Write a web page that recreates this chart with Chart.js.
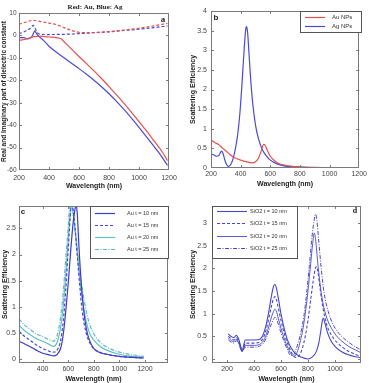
<!DOCTYPE html>
<html><head><meta charset="utf-8">
<script src="https://cdn.jsdelivr.net/npm/chart.js@4/dist/chart.umd.min.js"></script>
<style>
html,body{margin:0;padding:0;background:#fff}
body{width:369px;height:383px;position:relative;overflow:hidden}
.p{position:absolute}
</style></head><body>
<div class="p" style="left:0;top:0;width:185px;height:195px"><canvas id="ca"></canvas></div>
<div class="p" style="left:185px;top:0;width:184px;height:195px"><canvas id="cb"></canvas></div>
<div class="p" style="left:0;top:195px;width:185px;height:188px"><canvas id="cc"></canvas></div>
<div class="p" style="left:185px;top:195px;width:184px;height:188px"><canvas id="cd"></canvas></div>
<script>
// ---------- Panel a: dielectric constant ----------
const aTitle = 'Red: Au, Blue: Ag';
const aXTicks = [200,400,600,800,1000,1200];
const aYTicks = [-60,-50,-40,-30,-20,-10,0,10];
const auRealWl = [200,220,250,280,300,330,370,400,450,480,500,530,560,600,650,700,750,800,850,900,950,1000,1050,1100,1150,1190];
const auReal   = [-2.2,-2,-1.6,-1,-0.5,-0.3,-0.5,-0.7,-1,-1.5,-2.8,-4.8,-6.8,-9.4,-12.6,-15.8,-19.2,-22.8,-26.5,-30.3,-34.3,-38.4,-42.6,-47,-51.4,-55.8];
const agRealWl = [200,230,260,275,290,300,305,315,330,360,400,450,500,550,600,650,700,750,800,850,900,950,1000,1050,1100,1150,1190];
const agReal   = [-1,-1,-1.5,-1.2,0,1.5,2,1,-0.3,-2,-4.8,-7.5,-10,-12.4,-14.8,-17.3,-20,-22.9,-26,-29.4,-33,-36.9,-41,-45.2,-49.5,-53.9,-58];
const auImagWl = [200,230,260,290,320,360,400,450,500,550,600,650,700,800,900,1000,1100,1190];
const auImag   = [5,5.6,6.3,6.7,6.5,6,5.5,4.8,3.5,2.2,1.4,1.2,1.3,1.7,2.4,3.2,4.3,5.4];
const agImagWl = [200,230,260,280,295,305,320,340,400,500,600,700,800,900,1000,1100,1190];
const agImag   = [0.8,1.5,2.5,3.5,4.5,3.5,1.5,0.6,0.4,0.5,0.8,1.2,1.6,2.2,2.8,3.5,4.2];

// ---------- Panel b: Au / Ag NPs scattering ----------
const bXTicks = [200,400,600,800,1000,1200];
const bYTicks = [0,0.5,1,1.5,2,2.5,3,3.5,4];
const bLabels = ['Au NPs','Ag NPs'];
const bAuWl = [200,225,250,280,300,325,350,400,450,480,500,520,540,555,565,580,600,630,660,700,800,900,1000,1200];
const bAu   = [0.72,0.65,0.6,0.5,0.44,0.35,0.28,0.2,0.15,0.13,0.16,0.25,0.45,0.6,0.58,0.45,0.3,0.18,0.11,0.07,0.03,0.015,0.01,0.005];
const bAgWl = [200,210,220,240,255,270,280,295,310,320,335,350,365,380,395,410,425,435,440,447,455,465,480,500,520,545,570,600,650,700,800,900,1000,1200];
const bAg   = [0.33,0.35,0.33,0.3,0.33,0.43,0.38,0.18,0.06,0.04,0.1,0.25,0.5,0.85,1.4,2.2,3.1,3.55,3.6,3.45,3.0,2.4,1.7,1.1,0.75,0.48,0.33,0.2,0.1,0.05,0.02,0.01,0.008,0.003];

// ---------- Panel c: Au thickness ----------
const cXTicks = [400,600,800,1000,1200];
const cYTicks = [0,0.5,1,1.5,2,2.5];
const cLabels = ['Au t = 10 nm','Au t = 15 nm','Au t = 20 nm','Au t = 25 nm'];
const cWl10 = [215,250,300,350,400,450,485,510,540,560,580,600,620,640,655,662,670,685,700,720,740,760,800,850,900,1000,1100,1190];
const c10   = [0.34,0.3,0.24,0.17,0.11,0.08,0.06,0.08,0.2,0.45,0.9,1.45,2.1,2.65,2.9,2.95,2.8,2.1,1.5,0.95,0.6,0.4,0.2,0.12,0.09,0.05,0.03,0.02];
const cWl15 = [215,250,300,350,400,450,485,510,540,560,580,600,615,625,635,650,670,690,710,740,770,800,850,900,1000,1100,1190];
const c15   = [0.53,0.45,0.36,0.27,0.2,0.15,0.13,0.16,0.35,0.7,1.3,2.1,2.7,2.95,2.9,2.6,2.0,1.4,0.9,0.5,0.3,0.2,0.13,0.09,0.05,0.03,0.02];
const cWl20 = [215,250,300,350,380,400,450,485,510,540,560,580,600,615,622,635,650,670,690,710,740,770,800,850,900,1000,1100,1190];
const c20   = [0.65,0.56,0.47,0.39,0.36,0.34,0.28,0.24,0.3,0.6,1.0,1.6,2.3,2.8,2.95,2.85,2.55,2.05,1.55,1.15,0.72,0.48,0.36,0.24,0.17,0.09,0.05,0.04];
const cWl25 = [215,250,300,350,380,400,450,485,510,540,560,580,600,612,625,640,660,680,700,730,760,800,850,900,1000,1100,1190];
const c25   = [0.77,0.67,0.57,0.48,0.45,0.43,0.37,0.34,0.42,0.8,1.25,1.9,2.55,2.95,2.95,2.75,2.35,1.9,1.5,1.05,0.72,0.48,0.32,0.23,0.13,0.08,0.05];

// ---------- Panel d: SiO2 thickness ----------
const dXTicks = [200,400,600,800,1000];
const dYTicks = [0,0.5,1,1.5,2,2.5,3];
const dLabels = ['SiO2 t = 10 nm','SiO2 t = 15 nm','SiO2 t = 20 nm','SiO2 t = 25 nm'];
const dWl10 = [210,230,250,270,285,300,310,320,335,345,400,440,470,490,510,530,545,555,565,580,600,630,660,700,750,800,830,860,880,895,905,913,925,945,970,1000,1050,1100,1150,1190];
const d10   = [0.55,0.5,0.47,0.52,0.45,0.3,0.17,0.25,0.42,0.42,0.42,0.43,0.55,0.75,1.05,1.4,1.6,1.65,1.58,1.35,1.0,0.6,0.33,0.14,0.04,0.0,0.04,0.15,0.35,0.62,0.82,0.9,0.8,0.58,0.4,0.28,0.16,0.09,0.05,0.03];
const dWl15 = [210,230,250,270,285,300,310,320,335,345,400,440,470,490,510,530,545,555,565,580,600,630,660,690,715,740,760,780,800,820,840,855,864,875,890,910,940,980,1020,1060,1100,1150,1190];
const d15   = [0.5,0.45,0.42,0.47,0.4,0.27,0.17,0.22,0.35,0.35,0.35,0.37,0.47,0.64,0.9,1.17,1.33,1.38,1.33,1.13,0.85,0.5,0.26,0.08,0.03,0.1,0.25,0.5,0.85,1.3,1.75,2.0,2.04,1.9,1.55,1.15,0.75,0.5,0.35,0.25,0.17,0.1,0.06];
const dWl20 = [210,230,250,270,285,300,310,320,335,345,400,440,470,490,510,530,545,555,565,580,600,630,660,685,700,720,740,760,780,800,820,835,847,858,870,890,910,940,980,1020,1060,1100,1150,1190];
const d20   = [0.46,0.41,0.38,0.43,0.37,0.25,0.17,0.2,0.3,0.3,0.3,0.32,0.4,0.53,0.72,0.93,1.05,1.1,1.06,0.9,0.68,0.4,0.19,0.07,0.06,0.15,0.35,0.62,1.0,1.5,2.1,2.55,2.78,2.6,2.2,1.65,1.25,0.9,0.65,0.48,0.37,0.28,0.2,0.14];
const dWl25 = [210,230,250,270,285,300,310,320,335,345,400,440,470,490,510,530,545,555,565,580,600,630,650,670,690,710,730,750,770,790,810,830,845,857,867,880,900,920,950,980,1020,1060,1100,1150,1190];
const d25   = [0.42,0.37,0.35,0.4,0.35,0.23,0.17,0.19,0.26,0.26,0.26,0.28,0.35,0.46,0.62,0.78,0.88,0.92,0.9,0.77,0.58,0.33,0.19,0.08,0.08,0.2,0.38,0.62,0.95,1.45,2.05,2.7,3.05,3.2,3.05,2.6,1.95,1.45,1.05,0.8,0.6,0.47,0.37,0.27,0.2];

// ---------- helpers ----------
const FONT = "'Liberation Sans', Arial, sans-serif";
const SERIF = "'Liberation Serif', 'Times New Roman', serif";
const zip = (xs, ys) => xs.map((x, i) => ({x, y: ys[i]}));
const line = (label, xs, ys, color, dash, width) => ({
  label, data: zip(xs, ys), borderColor: color, backgroundColor: color,
  borderWidth: width || 1.2, borderDash: dash || [], pointRadius: 0,
  cubicInterpolationMode: 'monotone', fill: false
});

function axis(o) {
  return {
    type: 'linear', min: o.min, max: o.max,
    afterFit: s => { if (s.isHorizontal()) s.height = o.size; else s.width = o.size; },
    afterBuildTicks: s => { s.ticks = o.ticks.map(v => ({value: v})); },
    grid: {display: false, drawTicks: false},
    border: {display: false},
    ticks: {font: {family: FONT, size: o.tsize || 7}, color: '#444', padding: o.pad,
            maxRotation: 0, minRotation: 0, autoSkip: false, callback: v => String(v)},
    title: {display: true, text: o.title,
            font: {family: FONT, size: o.fsize || 7, weight: 'bold', lineHeight: o.lh || 1.2},
            color: '#222', padding: o.tpad}
  };
}

const framePlugin = {
  id: 'frame',
  afterDraw(chart, args, o) {
    const {ctx, chartArea: a, scales: {x, y}} = chart;
    ctx.save();
    ctx.strokeStyle = '#7a7a7a';
    ctx.lineWidth = 1;
    ctx.strokeRect(Math.round(a.left) + 0.5, Math.round(a.top) + 0.5,
                   Math.round(a.right - a.left) - 1, Math.round(a.bottom - a.top) - 1);
    const L = 3;
    ctx.beginPath();
    x.ticks.forEach(t => {
      const p = Math.round(x.getPixelForValue(t.value)) + 0.5;
      if (p < a.left || p > a.right) return;
      ctx.moveTo(p, a.bottom); ctx.lineTo(p, a.bottom - L);
      ctx.moveTo(p, a.top); ctx.lineTo(p, a.top + L);
    });
    y.ticks.forEach(t => {
      const p = Math.round(y.getPixelForValue(t.value)) + 0.5;
      if (p < a.top || p > a.bottom) return;
      ctx.moveTo(a.left, p); ctx.lineTo(a.left + L, p);
      ctx.moveTo(a.right, p); ctx.lineTo(a.right - L, p);
    });
    ctx.stroke();
    // legend box
    const lg = o.legend;
    if (lg) {
      ctx.fillStyle = '#fff';
      ctx.fillRect(lg.box[0], lg.box[1], lg.box[2], lg.box[3]);
      ctx.strokeStyle = '#555';
      ctx.strokeRect(lg.box[0] + 0.5, lg.box[1] + 0.5, lg.box[2], lg.box[3]);
      chart.data.datasets.forEach((ds, i) => {
        const yy = lg.rows[i] + 0.5;
        ctx.strokeStyle = ds.borderColor;
        ctx.lineWidth = ds.borderWidth;
        ctx.setLineDash(ds.borderDash || []);
        ctx.beginPath(); ctx.moveTo(lg.x1, yy); ctx.lineTo(lg.x2, yy); ctx.stroke();
        ctx.setLineDash([]);
        ctx.fillStyle = '#333';
        ctx.font = lg.font;
        ctx.textAlign = 'left'; ctx.textBaseline = 'middle';
        ctx.fillText(ds.label, lg.tx, yy);
      });
    }
    (o.texts || []).forEach(t => {
      ctx.font = t.font; ctx.fillStyle = t.color || '#222';
      ctx.textAlign = t.align || 'left'; ctx.textBaseline = 'middle';
      ctx.fillText(t.text, t.x, t.y);
    });
    ctx.restore();
  }
};

function make(id, datasets, xa, ya, pad, frameOpts) {
  return new Chart(document.getElementById(id), {
    type: 'line',
    data: {datasets},
    options: {
      responsive: true, maintainAspectRatio: false, animation: false, events: [],
      devicePixelRatio: 1,
      layout: {padding: pad},
      scales: {x: axis(xa), y: axis(ya)},
      plugins: {legend: {display: false}, tooltip: {enabled: false}, frame: frameOpts}
    },
    plugins: [framePlugin]
  });
}

const RED = '#e5504e', BLUE = '#4a4ad4';

// Panel a
make('ca', [
  line('Au real', auRealWl, auReal, RED),
  line('Ag real', agRealWl, agReal, BLUE),
  line('Au imaginary', auImagWl, auImag, RED, [3, 2]),
  line('Ag imaginary', agImagWl, agImag, BLUE, [3, 2])
], {min: 200, max: 1200, ticks: aXTicks, size: 25, pad: 3.5, title: 'Wavelength (nm)', tpad: {top: 0, bottom: 5}},
   {min: -60, max: 10, ticks: aYTicks, size: 19, pad: 2.5, tsize: 6.5, fsize: 6.5, lh: 1, title: 'Real and Imaginary part of dielectric constant', tpad: {top: 0.5, bottom: 0}},
   {left: 0, right: 16, top: 13, bottom: 0},
   {texts: [
     {text: aTitle, x: 95, y: 7, align: 'center', font: 'bold 7px ' + SERIF},
     {text: 'a', x: 163, y: 20, align: 'center', font: 'bold 9px ' + SERIF}
   ]});

// Panel b
make('cb', [
  line(bLabels[0], bAuWl, bAu, RED),
  line(bLabels[1], bAgWl, bAg, BLUE)
], {min: 200, max: 1200, ticks: bXTicks, size: 27, pad: 2, title: 'Wavelength (nm)', tpad: {top: 0, bottom: 7}},
   {min: 0, max: 4, ticks: bYTicks, size: 26, pad: 4, title: 'Scattering Efficiency', tpad: {top: 4, bottom: 0}},
   {left: 0, right: 8, top: 11, bottom: 0},
   {legend: {box: [115, 11, 61, 21], rows: [17, 26], x1: 120, x2: 140, tx: 147, font: '6px ' + FONT},
    texts: [{text: 'b', x: 31, y: 18, align: 'center', font: 'bold 8px ' + FONT}]});

// Panel c
make('cc', [
  line(cLabels[0], cWl10, c10, '#3c3cc6'),
  line(cLabels[1], cWl15, c15, '#4b4bc9', [3, 2]),
  line(cLabels[2], cWl20, c20, '#62c0c0'),
  line(cLabels[3], cWl25, c25, '#66b2c6', [4, 1.5, 1, 1.5])
], {min: 215, max: 1380, ticks: cXTicks, size: 20, pad: 2, title: 'Wavelength (nm)', tpad: {top: 0, bottom: 0}},
   {min: -0.077, max: 2.93, ticks: cYTicks, size: 19, pad: 3, title: 'Scattering Efficiency', tpad: {top: 0.5, bottom: 0}},
   {left: 0, right: 17, top: 11, bottom: 0},
   {legend: {box: [90, 11, 78, 52], rows: [18, 30, 42, 54], x1: 95, x2: 115, tx: 127, font: '5.5px ' + FONT},
    texts: [{text: 'c', x: 23, y: 17, align: 'center', font: 'bold 8px ' + FONT}]});

// Panel d
const DB = '#4747c9';
make('cd', [
  line(dLabels[0], dWl10, d10, DB, [], 1.1),
  line(dLabels[1], dWl15, d15, DB, [3, 2], 1.1),
  line(dLabels[2], dWl20, d20, DB, [], 0.9),
  line(dLabels[3], dWl25, d25, DB, [4, 1.5, 1, 1.5], 1)
], {min: 89, max: 1193, ticks: dXTicks, size: 20, pad: 2, title: 'Wavelength (nm)', tpad: {top: 0, bottom: 0}},
   {min: -0.09, max: 3.38, ticks: dYTicks, size: 27, pad: 5, title: 'Scattering Efficiency', tpad: {top: 4, bottom: 0}},
   {left: 0, right: 8, top: 11, bottom: 0},
   {legend: {box: [27, 11, 85, 52], rows: [16, 28, 41, 53], x1: 32, x2: 62, tx: 65, font: '5.5px ' + FONT},
    texts: [{text: 'd', x: 170, y: 16, align: 'center', font: 'bold 8px ' + SERIF}]});
</script>
</body></html>
